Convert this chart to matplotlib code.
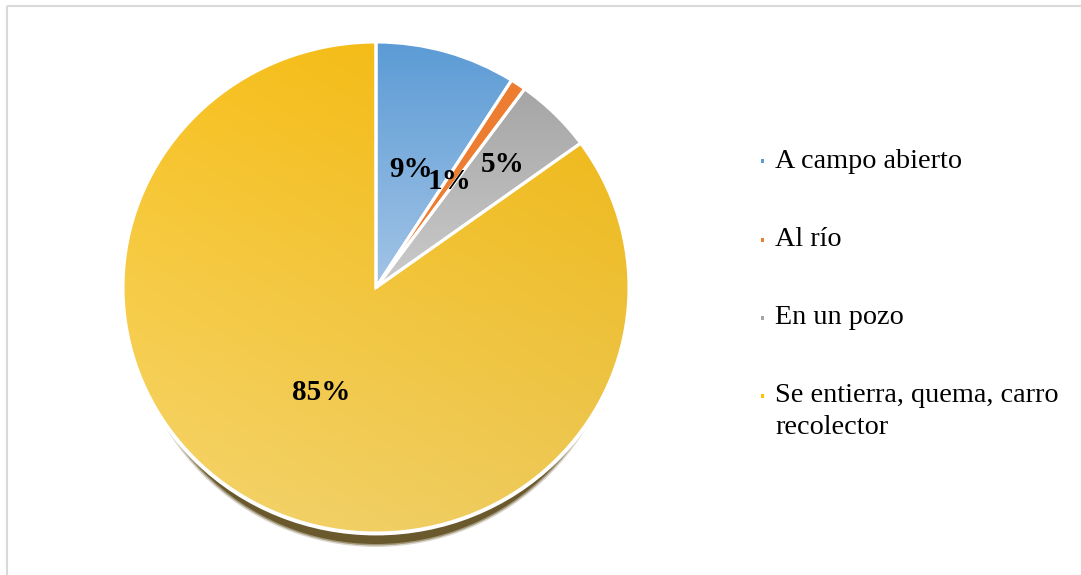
import numpy as np
import matplotlib
matplotlib.use("Agg")
import matplotlib.pyplot as plt
from matplotlib.colors import to_rgb
from matplotlib.patches import Ellipse, Rectangle

# destino de los residuos
categorias = ["A campo abierto", "Al río", "En un pozo",
              "Se entierra, quema, carro\nrecolector"]
porcentajes = [9, 1, 5, 85]

# colores (arriba, abajo) de cada sector
colores = [("#5b9bd5", "#a3c4e6"),
           ("#ed7d31", "#ed7d31"),
           ("#a5a5a5", "#cbcbcb"),
           ("#f9bf14", "#f5d56e")]
color_leyenda = ["#5b9bd5", "#ed7d31", "#a5a5a5", "#ffc000"]
dist_etiquetas = [0.50, 0.52, 0.71, 0.48]

W, H = 1081, 575
fig = plt.figure(figsize=(W / 100, H / 100), dpi=100)

# capa de fondo en pixeles: marco y leyenda
fondo = fig.add_axes([0, 0, 1, 1])
fondo.set_xlim(0, W)
fondo.set_ylim(H, 0)
fondo.axis("off")
fondo.plot([7, W], [5.5, 5.5], color="#d9d9d9", lw=1.5, solid_capstyle="butt")
fondo.plot([7, 7], [5.5, H], color="#d9d9d9", lw=1.5, solid_capstyle="butt")

fuente = "Liberation Serif"
y_leyenda = [161, 240, 318, 396]
for cat, col, y in zip(categorias, color_leyenda, y_leyenda):
    fondo.add_patch(Rectangle((760.5, y - 2), 3.5, 3.5, color=col, lw=0))
    for i, linea in enumerate(cat.split("\n")):
        fondo.text(775, y + i * 31, linea, family=fuente, fontsize=20.3,
                   va="center", ha="left")

# pastel: escala de pixeles por unidad en x e y
cx, cy = 376, 287.5
rx, ry = 253, 245.5
x0, x1 = -1.02, 1.02
y0, y1 = -1.10, 1.02
ax = fig.add_axes([(cx + x0 * rx) / W, (H - (cy - y0 * ry)) / H,
                   (x1 - x0) * rx / W, (y1 - y0) * ry / H])

wedges, _ = ax.pie(porcentajes, startangle=90, counterclock=False, radius=1,
                   colors=["none"] * 4,
                   wedgeprops=dict(edgecolor="white", linewidth=2.2, zorder=3))
ax.set_aspect("auto")

# sombra desplazada hacia abajo, con borde suavizado
d = 11 / ry
for k, alfa in [(1.012, 0.25), (1.006, 0.5), (1.0, 1.0)]:
    ax.add_patch(Ellipse((0, -d), 2 * 0.962 * k, 2 * k, color="#6a592c",
                         alpha=alfa, lw=0, zorder=0.5))
ax.add_patch(Ellipse((0, 0), 2.0, 2.0, facecolor="white", edgecolor="white",
                     lw=3.5, zorder=0.8))

# relleno degradado de cada sector
for w, (c_top, c_bot) in zip(wedges, colores):
    bb = w.get_path().get_extents()
    n = 200
    gy, gx = np.mgrid[0:1:n * 1j, 0:1:n * 1j]
    t = 1 - gy
    oscuro = np.ones_like(gx)
    if c_top == "#f9bf14":
        t = np.clip(0.85 * (1 - gy) + 0.2 * (1 - gx) - 0.05, 0, 1)
        oscuro = 1 - 0.04 * gx
    a, b = np.array(to_rgb(c_top)), np.array(to_rgb(c_bot))
    img = a[None, None, :] * (1 - t[..., None]) + b[None, None, :] * t[..., None]
    img = np.clip(img * oscuro[..., None], 0, 1)
    im = ax.imshow(img, origin="lower", extent=(bb.x0, bb.x1, bb.y0, bb.y1),
                   aspect="auto", zorder=2, interpolation="bilinear")
    im.set_clip_path(w)

# etiquetas de porcentaje
for w, p, r in zip(wedges, porcentajes, dist_etiquetas):
    ang = np.deg2rad((w.theta1 + w.theta2) / 2)
    ax.text(r * np.cos(ang), r * np.sin(ang), f"{p}%", family=fuente,
            fontweight="bold", fontsize=21, ha="center", va="center", zorder=5)

ax.set_xlim(x0, x1)
ax.set_ylim(y0, y1)
ax.axis("off")

fig.savefig("out.png", dpi=100)
